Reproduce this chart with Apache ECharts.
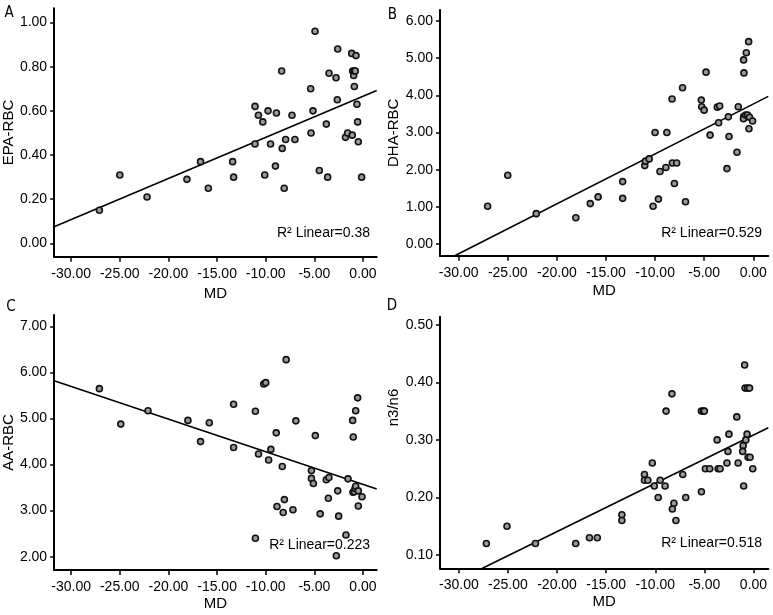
<!DOCTYPE html>
<html>
<head>
<meta charset="utf-8">
<script src="https://cdn.jsdelivr.net/npm/echarts@6/dist/echarts.min.js"></script>
<style>
html,body{margin:0;padding:0;background:#fff;}
#main{width:773px;height:615px;}
</style>
</head>
<body>
<div id="main"></div>
<script>
// ---- Data ----
const mdA  = [-27.1,-25.0,-22.2,-18.1,-16.7,-15.9,-13.4,-13.3,-11.1,-11.1,-10.75,-10.3,-10.1,-9.76,-9.5,-9.0,-8.9,-8.36,-8.3,-8.1,-7.95,-7.3,-7.0,-5.38,-5.34,-5.14,-4.93,-4.49,-3.77,-3.63,-3.49,-2.77,-2.64,-2.6,-1.8,-1.58,-1.16,-1.1,-1.06,-0.96,-0.89,-0.89,-0.72,-0.79,-0.62,-0.55,-0.48,-0.14];
const epa  = [0.15,0.31,0.21,0.29,0.37,0.25,0.37,0.30,0.62,0.45,0.58,0.55,0.31,0.60,0.45,0.35,0.59,0.78,0.43,0.25,0.47,0.58,0.47,0.70,0.50,0.60,0.96,0.33,0.54,0.30,0.77,0.75,0.65,0.88,0.48,0.50,0.86,0.49,0.78,0.76,0.78,0.71,0.85,0.78,0.63,0.55,0.46,0.30];

const mdB  = [-27.05,-25.0,-22.1,-18.07,-16.6,-15.8,-13.3,-13.3,-11.05,-10.98,-10.6,-10.0,-10.2,-9.66,-9.5,-8.9,-8.8,-8.27,-8.24,-8.03,-7.8,-7.2,-6.9,-5.29,-5.25,-5.0,-4.81,-4.4,-3.66,-3.42,-3.53,-2.68,-2.54,-2.47,-1.66,-1.53,-0.98,-1.0,-0.98,-0.95,-0.78,-0.71,-0.58,-0.47,-0.44,-0.38,-0.07];
const dha  = [1.02,1.85,0.82,0.71,1.09,1.27,1.68,1.23,2.11,2.23,2.29,3.00,1.02,1.21,1.95,2.06,3.00,3.90,2.18,1.63,2.18,4.20,1.14,3.87,3.69,3.60,4.62,2.93,3.68,3.71,3.26,2.03,3.42,2.89,2.47,3.69,3.43,3.37,4.95,4.60,3.47,5.14,3.47,5.44,3.10,3.41,3.31];

const mdC  = [-27.1,-24.9,-22.1,-18.0,-16.7,-15.8,-13.3,-13.3,-11.06,-11.06,-10.74,-10.2,-10.0,-9.7,-9.47,-8.92,-8.84,-8.3,-8.2,-8.08,-7.9,-7.2,-6.9,-5.3,-5.3,-5.1,-4.9,-4.4,-3.77,-3.5,-3.56,-2.74,-2.6,-2.5,-1.75,-1.54,-1.06,-1.0,-0.75,-0.55,-1.03,-0.89,-0.82,-0.75,-0.48,-0.48,-0.1];
const aa   = [5.65,4.88,5.17,4.96,4.50,4.91,5.31,4.37,5.16,2.40,4.23,5.75,5.78,4.10,4.33,4.69,3.09,3.96,2.96,3.24,6.28,3.02,4.95,3.87,3.70,3.59,4.63,2.93,3.67,3.72,3.27,2.02,3.43,2.88,2.47,3.69,4.96,4.60,5.17,5.45,3.40,3.41,3.48,3.53,3.43,3.10,3.30];

const mdD  = [-27.2,-25.1,-22.2,-18.1,-16.7,-15.9,-13.4,-13.4,-11.1,-11.1,-10.75,-10.3,-10.1,-9.7,-9.5,-9.0,-8.9,-8.3,-8.26,-8.1,-7.9,-7.2,-6.9,-5.3,-5.1,-5.0,-5.3,-4.9,-4.45,-3.7,-3.6,-3.4,-2.7,-2.6,-2.5,-1.7,-1.56,-1.05,-1.1,-1.0,-0.9,-0.85,-0.6,-0.4,-0.78,-0.65,-0.55,-0.35,-0.07];
const n3n6 = [0.12,0.15,0.12,0.12,0.13,0.13,0.17,0.16,0.24,0.23,0.23,0.26,0.22,0.20,0.23,0.22,0.35,0.38,0.18,0.19,0.16,0.24,0.20,0.35,0.35,0.35,0.21,0.25,0.25,0.30,0.25,0.25,0.26,0.28,0.31,0.34,0.26,0.29,0.28,0.22,0.43,0.39,0.39,0.39,0.30,0.31,0.27,0.27,0.25];

// Fit lines (end points)
const fitA = [[-31.75,0.076],[1.41,0.692]];
const fitB = [[-30.4,-0.31],[1.53,3.97]];
const fitC = [[-31.75,5.82],[1.41,3.47]];
const fitD = [[-27.6,0.077],[1.51,0.321]];

// Tick labels
const xTicks  = [-30,-25,-20,-15,-10,-5,0];
const yTicksA = [0,0.2,0.4,0.6,0.8,1.0];
const yTicksB = [0,1,2,3,4,5,6];
const yTicksC = [2,3,4,5,6,7];
const yTicksD = [0.1,0.2,0.3,0.4,0.5];

const panelLetters = ['A','B','C','D'];
const yNames = ['EPA-RBC','DHA-RBC','AA-RBC','n3/n6'];
const r2Texts = ['R\u00B2 Linear=0.38','R\u00B2 Linear=0.529','R\u00B2 Linear=0.223','R\u00B2 Linear=0.518'];

const zip = (xs, ys) => xs.map((x, i) => [x, ys[i]]);

// ---- Layout ----
const grids = [
  {left:54,  top:8.3,  width:322.7, height:248.4},
  {left:440, top:10,   width:328.3, height:245.7},
  {left:53.5,top:315,  width:323.2, height:255},
  {left:440, top:316.7,width:328.3, height:251.6}
];
const xRanges = [[-31.75,1.41],[-31.9,1.53],[-31.75,1.41],[-31.92,1.51]];
const yRanges = [[-0.06,1.064],[-0.31,6.29],[1.71,7.25],[0.077,0.514]];
const yTickSets = [yTicksA,yTicksB,yTicksC,yTicksD];
const yNamePad = [[0,0,0,0],[0,0,0,0],[0,0,0,0],[0,0,0,70]];
const xNameGaps = [30,28,26,26];

const FONT = "'Liberation Sans', Arial, sans-serif";
const axisLineStyle = {color:'#000', width:2};

const xAxes = grids.map((g, i) => ({
  type:'value', gridIndex:i, min:xRanges[i][0], max:xRanges[i][1],
  name:'MD', nameLocation:'middle', nameGap:xNameGaps[i],
  nameTextStyle:{color:'#000', fontSize:15, fontFamily:FONT},
  axisLine:{show:true, onZero:false, lineStyle:axisLineStyle},
  axisTick:{show:true, inside:false, length:5, lineStyle:{color:'#000', width:1.5}, customValues:xTicks},
  axisLabel:{color:'#000', fontSize:14, fontFamily:FONT, margin:10, customValues:xTicks,
             formatter:v => v.toFixed(2)},
  splitLine:{show:false}
}));

const yAxes = grids.map((g, i) => ({
  type:'value', gridIndex:i, min:yRanges[i][0], max:yRanges[i][1],
  name:yNames[i], nameLocation:'middle', nameGap:37, nameRotate:90,
  nameTextStyle:{color:'#000', fontSize:15, fontFamily:FONT, padding:yNamePad[i]},
  axisLine:{show:true, onZero:false, lineStyle:axisLineStyle},
  axisTick:{show:true, inside:false, length:4, lineStyle:{color:'#000', width:1.5}, customValues:yTickSets[i]},
  axisLabel:{color:'#000', fontSize:14, fontFamily:FONT, margin:7, customValues:yTickSets[i],
             formatter:v => v.toFixed(2)},
  splitLine:{show:false}
}));

const scatterData = [zip(mdA,epa), zip(mdB,dha), zip(mdC,aa), zip(mdD,n3n6)];
const fits = [fitA, fitB, fitC, fitD];

const series = [];
for (let i = 0; i < 4; i++) {
  series.push({
    type:'line', xAxisIndex:i, yAxisIndex:i, data:fits[i], symbol:'none',
    lineStyle:{color:'#000', width:1.6}, clip:true, silent:true, z:2, animation:false
  });
  series.push({
    type:'scatter', xAxisIndex:i, yAxisIndex:i, data:scatterData[i],
    symbol:'circle', symbolSize:6,
    itemStyle:{color:'#999', borderColor:'#111', borderWidth:1.6, opacity:1},
    z:3, animation:false
  });
}

// Letters and R² labels positions
const letterPos = [[9,13],[392.5,15],[11,307],[392,306]];
const r2Pos = [[370,233],[762,233],[370,545],[762,543.5]];

const graphics = [];
for (let i = 0; i < 4; i++) {
  graphics.push({
    type:'text', x:letterPos[i][0], y:letterPos[i][1], silent:true,
    style:{text:panelLetters[i], fill:'#000', font:"15px 'Liberation Sans Narrow', 'DejaVu Sans Condensed', sans-serif",
           textAlign:'center', textVerticalAlign:'middle'}
  });
  graphics.push({
    type:'text', x:r2Pos[i][0], y:r2Pos[i][1], silent:true, z:10,
    style:{text:r2Texts[i], fill:'#000', font:"14px 'Liberation Sans', Arial, sans-serif",
           textAlign:'right', textVerticalAlign:'middle'}
  });
}

const chart = echarts.init(document.getElementById('main'), null, {renderer:'canvas'});
chart.setOption({
  backgroundColor:'#fff',
  animation:false,
  grid:grids.map(g => Object.assign({containLabel:false}, g)),
  xAxis:xAxes,
  yAxis:yAxes,
  series:series,
  graphic:graphics
});
</script>
</body>
</html>
